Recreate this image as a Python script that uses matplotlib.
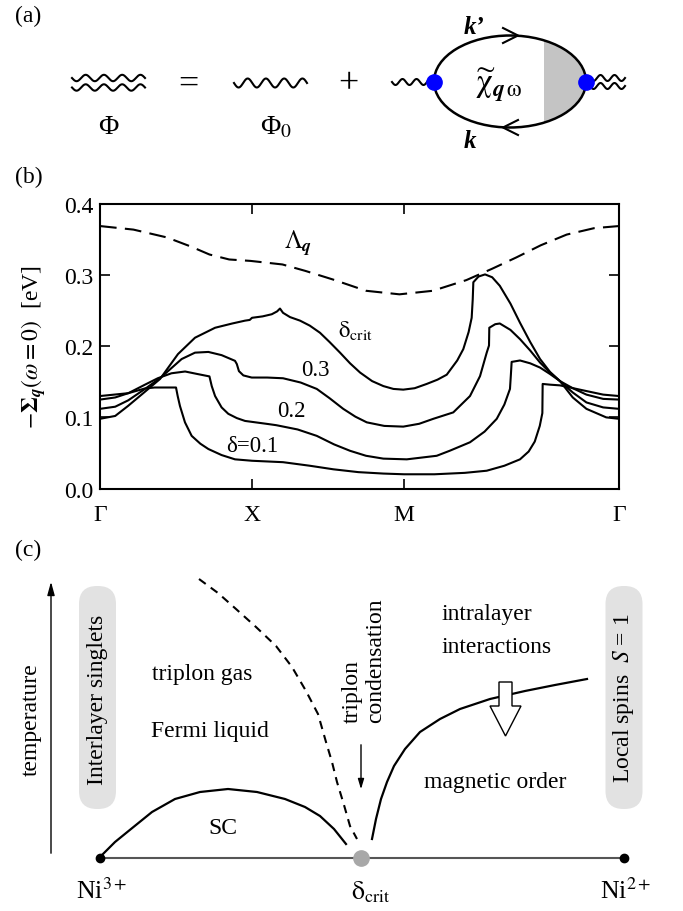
import numpy as np
import matplotlib.pyplot as plt
from matplotlib.patches import Ellipse, Rectangle, FancyBboxPatch, FancyArrow

plt.rcParams['font.family'] = 'serif'
plt.rcParams['font.serif'] = ['Liberation Serif', 'DejaVu Serif']
plt.rcParams['mathtext.fontset'] = 'stix'

# ---- panel (b): path Gamma-X-M-Gamma, unit = |Gamma X|
path_ticks = [0, 1, 2, 2 + np.sqrt(2)]
path_labels = ['Γ', 'X', 'M', 'Γ']

lam_u = [0, 0.22, 0.44, 0.6, 0.72, 0.85, 0.99, 1.2, 1.35, 1.53, 1.75, 1.97, 2.19, 2.41, 2.58, 2.74, 2.9, 3.07, 3.25, 3.414]
lam_v = [0.369, 0.364, 0.353, 0.340, 0.329, 0.322, 0.320, 0.315, 0.306, 0.294, 0.278, 0.273, 0.278, 0.293, 0.309, 0.325, 0.342, 0.357, 0.366, 0.369]

crit_u = [0, 0.10, 0.184, 0.29, 0.395, 0.513, 0.625, 0.757, 0.87, 0.954, 0.985, 1.0, 1.07, 1.13, 1.165,
          1.184, 1.204, 1.25, 1.316, 1.38, 1.447, 1.51, 1.579, 1.645, 1.711, 1.79, 1.864, 1.93, 1.995,
          2.07, 2.149, 2.22, 2.281, 2.35, 2.39, 2.425, 2.445, 2.452, 2.456, 2.49, 2.533, 2.58, 2.63,
          2.70, 2.763, 2.83, 2.895, 2.96, 3.026, 3.11, 3.2, 3.33, 3.414]
crit_v = [0.098, 0.102, 0.116, 0.135, 0.154, 0.189, 0.212, 0.226, 0.232, 0.236, 0.237, 0.240, 0.242, 0.245, 0.249,
          0.253, 0.247, 0.241, 0.236, 0.229, 0.219, 0.206, 0.191, 0.176, 0.163, 0.151, 0.144, 0.140, 0.139,
          0.141, 0.147, 0.153, 0.160, 0.180, 0.196, 0.220, 0.240, 0.266, 0.290, 0.298, 0.301, 0.297, 0.285,
          0.260, 0.233, 0.206, 0.182, 0.164, 0.151, 0.128, 0.112, 0.100, 0.098]

d3_u = [0, 0.1, 0.186, 0.296, 0.40, 0.537, 0.625, 0.713, 0.80, 0.888, 0.90, 0.914, 0.943, 0.998, 1.1, 1.204,
        1.32, 1.426, 1.51, 1.60, 1.68, 1.755, 1.87, 1.995, 2.10, 2.193, 2.324, 2.434, 2.5, 2.544, 2.559,
        2.561, 2.60, 2.63, 2.70, 2.763, 2.83, 2.895, 2.96, 3.026, 3.11, 3.2, 3.31, 3.414]
d3_v = [0.112, 0.115, 0.124, 0.140, 0.156, 0.182, 0.191, 0.192, 0.1875, 0.1795, 0.175, 0.165, 0.159, 0.156, 0.156, 0.155,
        0.149, 0.140, 0.127, 0.112, 0.101, 0.093, 0.088, 0.087, 0.091, 0.098, 0.107, 0.130, 0.158, 0.191, 0.201,
        0.226, 0.231, 0.232, 0.223, 0.210, 0.194, 0.177, 0.163, 0.151, 0.135, 0.121, 0.114, 0.112]

d2_u = [0, 0.1, 0.186, 0.296, 0.38, 0.47, 0.56, 0.64, 0.72, 0.735, 0.757, 0.80, 0.844, 0.90, 0.954, 1.107,
        1.16, 1.30, 1.426, 1.54, 1.645, 1.75, 1.864, 2.018, 2.215, 2.30, 2.434, 2.53, 2.61, 2.66, 2.697,
        2.703, 2.708, 2.763, 2.83, 2.895, 2.96, 3.026, 3.11, 3.2, 3.31, 3.414]
d2_v = [0.125, 0.128, 0.134, 0.146, 0.155, 0.162, 0.1645, 0.161, 0.1576, 0.144, 0.130, 0.114, 0.105, 0.099, 0.095, 0.0906,
        0.089, 0.083, 0.074, 0.062, 0.053, 0.046, 0.042, 0.041, 0.046, 0.053, 0.065, 0.080, 0.098, 0.118, 0.140,
        0.160, 0.178, 0.180, 0.176, 0.170, 0.161, 0.151, 0.141, 0.132, 0.126, 0.125]

d1_u = [0, 0.186, 0.296, 0.36, 0.50, 0.511, 0.526, 0.559, 0.603, 0.66, 0.713, 0.80, 0.888, 1.0, 1.204, 1.38,
        1.535, 1.70, 1.864, 2.0, 2.2, 2.40, 2.544, 2.66, 2.763, 2.82, 2.86, 2.893, 2.91, 2.912, 2.96, 3.026,
        3.07, 3.2, 3.31, 3.414]
d1_v = [0.130, 0.134, 0.1407, 0.142, 0.142, 0.130, 0.116, 0.093, 0.074, 0.063, 0.0555, 0.047, 0.041, 0.039, 0.037, 0.032,
        0.027, 0.023, 0.021, 0.020, 0.020, 0.022, 0.025, 0.032, 0.041, 0.052, 0.066, 0.088, 0.106, 0.147, 0.146, 0.145,
        0.143, 0.137, 0.132, 0.130]

curve_labels = [r'$\mathrm{δ}_{\mathrm{crit}}$', '0.3', '0.2', 'δ=0.1']
curve_label_pos = [(1.68, 0.223), (1.42, 0.168), (1.26, 0.110), (1.0, 0.061)]

# ---- panel (c) schematic (figure pixel coordinates)
dash_x = [199, 218, 236, 256, 276, 292, 306, 318, 326, 332, 337, 344, 350, 357]
dash_y = [580, 594, 610, 628, 647, 668, 692, 715, 743, 763, 783, 806, 827, 840]
mag_x = [372, 376, 381, 387, 394, 405, 420, 440, 460, 490, 525, 555, 587]
mag_y = [840, 820, 800, 783, 767, 750, 733, 720, 710, 700, 692, 686, 680]
sc_x = [101, 115, 131, 152, 175, 200, 228, 257, 285, 305, 320, 334, 346]
sc_y = [857, 843, 830, 813, 800, 793, 790, 793, 800, 808, 817, 830, 845]
doping_x = [100, 361, 624]
doping_labels = ['Ni$^{3+}$', r'$\mathrm{δ}_{\mathrm{crit}}$', 'Ni$^{2+}$']

W, H = 683, 912
fig = plt.figure(figsize=(W / 100, H / 100), dpi=100)

ax = fig.add_axes([100 / W, 1 - 489.5 / H, 519 / W, 284.5 / H])
ax.plot(lam_u, lam_v, color='k', lw=1.5, ls=(0, (8, 4)))
for u, v in [(crit_u, crit_v), (d3_u, d3_v), (d2_u, d2_v), (d1_u, d1_v)]:
    ax.plot(u, v, color='k', lw=1.5)
for lab, (x, y) in zip(curve_labels, curve_label_pos):
    ax.text(x, y, lab, fontsize=16.5, ha='center', va='center')
ax.text(1.30, 0.346, r'$\Lambda_{\mathbfit{q}}$', fontsize=18, ha='center', va='center')
ax.set_xlim(0, path_ticks[-1])
ax.set_ylim(0, 0.4)
ax.set_xticks(path_ticks)
ax.set_xticklabels(path_labels)
ax.set_yticks([0, 0.1, 0.2, 0.3, 0.4])
ax.set_yticklabels(['0.0', '0.1', '0.2', '0.3', '0.4'])
ax.tick_params(direction='in', length=7, width=1.2, top=True, right=True, labelsize=17)
ax.tick_params(axis='x', pad=11)
ax.tick_params(axis='y', pad=5)
for s in ax.spines.values():
    s.set_linewidth(1.5)
ax.set_ylabel(r'$-\mathbf{\Sigma}_{\mathbfit{q}}(\omega = 0)$  [eV]', fontsize=17)
ax.yaxis.set_label_coords(-0.10, 0.5)

# overlay for panels (a) and (c)
sk = fig.add_axes([0, 0, 1, 1])
sk.set_xlim(0, W)
sk.set_ylim(H, 0)
sk.axis('off')
sk.patch.set_alpha(0)


def wavy(x0, x1, y, n, amp=3.0):
    t = np.linspace(0, 1, 300)
    sk.plot(x0 + (x1 - x0) * t, y + amp * np.sin(2 * np.pi * n * t), color='k', lw=1.5)


# panel labels
sk.text(15, 16, '(a)', fontsize=17, va='center')
sk.text(15, 177, '(b)', fontsize=17, va='center')
sk.text(15, 550, '(c)', fontsize=17, va='center')

# (a) Dyson equation
wavy(72, 145, 79, 4, amp=3.2)
wavy(72, 145, 88.5, 4, amp=3.2)
sk.text(188, 85, '=', fontsize=26, ha='center', va='center')
wavy(234, 307, 84, 4, amp=4.5)
sk.text(348, 85, '+', fontsize=26, ha='center', va='center')
wavy(392, 434, 83, 3)
wavy(590, 625, 79, 2.5)
wavy(590, 625, 87, 2.5)
sk.text(108, 127, 'Φ', fontsize=20, ha='center', va='center')
sk.text(276, 128, r'Φ$_0$', fontsize=20, ha='center', va='center')

loop = Ellipse((510, 82.5), 152, 92, fill=False, lw=1.8, ec='k', zorder=3)
sk.add_patch(loop)
shade = Rectangle((544, 30), 60, 110, fc='#c4c4c4', ec='none', zorder=2)
sk.add_patch(shade)
shade.set_clip_path(Ellipse((510, 82.5), 152, 92, transform=sk.transData))
sk.plot([503, 518, 503], [29, 36.5, 44], color='k', lw=1.5, zorder=4)
sk.plot([518, 503, 518], [121, 128.5, 136], color='k', lw=1.5, zorder=4)
sk.plot([434.3, 586], [82.7, 82.7], 'o', color='#0000ff', ms=11, zorder=5)
sk.text(474, 27, 'k’', fontsize=18, fontweight='bold', fontstyle='italic', ha='center', va='center')
sk.text(470, 141, 'k', fontsize=18, fontweight='bold', fontstyle='italic', ha='center', va='center')
sk.text(499, 85, r'$\widetilde{\mathrm{\chi}}_{\mathbfit{q}\,\mathrm{\omega}}$', fontsize=24,
        ha='center', va='center')

# (c) phase diagram
sk.annotate('', xy=(51, 580), xytext=(51, 857),
            arrowprops=dict(arrowstyle='-|>,head_length=0.8,head_width=0.22', lw=1.0, color='k'))
sk.text(31, 720, 'temperature', fontsize=17, rotation=90, ha='center', va='center')

for bx in [79, 605.5]:
    sk.add_patch(FancyBboxPatch((bx, 587), 37, 223, boxstyle='round,pad=0,rounding_size=18',
                                fc='#e2e2e2', ec='none'))
sk.text(97.5, 700, 'Interlayer singlets', fontsize=17, rotation=90, ha='center', va='center')
sk.text(624, 698, r'Local spins  $S$ = 1', fontsize=17, rotation=90, ha='center', va='center')

sk.plot(dash_x, dash_y, color='k', lw=1.5, ls=(0, (4, 3)))
sk.plot(mag_x, mag_y, color='k', lw=1.6)
sk.plot(sc_x, sc_y, color='k', lw=1.6)

sk.add_patch(FancyArrow(505.5, 683, 0, 54, width=13, head_width=31, head_length=30,
                        length_includes_head=True, fc='white', ec='k', lw=1.0, zorder=4))
sk.annotate('', xy=(361, 793), xytext=(361, 743),
            arrowprops=dict(arrowstyle='-|>,head_length=0.6,head_width=0.18', lw=1.0, color='k'))

sk.text(202, 675, 'triplon gas', fontsize=17, ha='center', va='center')
sk.text(210, 732, 'Fermi liquid', fontsize=17, ha='center', va='center')
sk.text(364, 723, 'triplon\ncondensation', fontsize=17, rotation=90, ha='center', va='bottom',
        multialignment='left', linespacing=1.15)
sk.text(442, 615, 'intralayer', fontsize=17, ha='left', va='center')
sk.text(442, 648, 'interactions', fontsize=17, ha='left', va='center')
sk.text(495, 783, 'magnetic order', fontsize=17, ha='center', va='center')
sk.text(223, 829, 'SC', fontsize=17, ha='center', va='center')

sk.plot([doping_x[0], doping_x[-1]], [859, 859], color='#555555', lw=1.5, zorder=3)
sk.plot([doping_x[0], doping_x[-1]], [859, 859], 'o', color='k', ms=6, zorder=4)
sk.plot([doping_x[1]], [859], 'o', color='#a8a8a8', ms=11, zorder=4)
label_dx = [2, 10, 2]
for x, dx, lab in zip(doping_x, label_dx, doping_labels):
    sk.text(x + dx, 899, lab, fontsize=18.5, ha='center', va='baseline')

fig.savefig('out.png', dpi=100)
